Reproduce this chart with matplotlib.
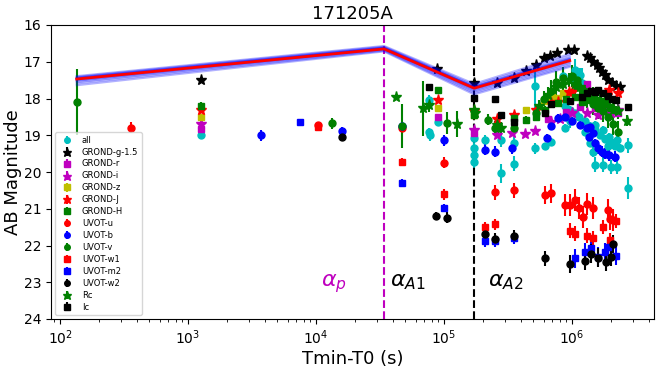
import matplotlib
matplotlib.use("Agg")
import matplotlib.pyplot as plt

# ---------------- data ----------------
all_t = [1260, 7.6e4, 7.6e4, 7.8e4, 8.9e4, 1.7e5, 1.7e5, 1.72e5, 1.7e5, 2.1e5, 2.8e5, 2.8e5,
         3.5e5, 3.5e5, 5.1e5, 5.1e5, 6.2e5, 6.9e5, 8.8e5, 9.6e5, 1.06e6, 1.2e6, 8.5e5, 1.0e6,
         1.15e6, 8.8e5, 9.6e5, 1.05e6, 1.14e6, 1.26e6, 1.38e6, 1.51e6, 1.65e6, 1.81e6, 1.98e6,
         2.18e6, 2.37e6, 1.26e6, 1.38e6, 1.45e6, 1.5e6, 1.75e6, 1.95e6, 2.1e6, 2.25e6, 2.75e6,
         1.5e6, 1.75e6, 2.0e6, 2.25e6, 2.75e6, 1.9e6]
all_mag = [19.0, 18.05, 18.9, 19.0, 18.65, 19.07, 19.35, 19.53, 19.72, 19.13, 19.13, 20.04,
           19.2, 19.77, 17.66, 19.35, 19.3, 19.18, 18.8, 18.6, 17.22, 17.58, 17.4, 17.45,
           17.36, 18.2, 18.3, 18.4, 18.5, 18.6, 18.75, 18.85, 19.0, 19.1, 19.2,
           19.3, 19.35, 18.9, 19.2, 19.45, 18.72, 18.86, 19.05, 19.2, 19.13, 19.27,
           19.8, 19.8, 19.86, 19.86, 20.44, 19.3]
all_err = [0.05, 0.15, 0.1, 0.15, 0.1, 0.2, 0.25, 0.2, 0.2, 0.15, 0.2, 0.25,
           0.15, 0.2, 0.6, 0.15, 0.1, 0.1, 0.1, 0.2, 0.3, 0.4, 0.15, 0.15,
           0.2, 0.1, 0.1, 0.1, 0.1, 0.1, 0.1, 0.1, 0.1, 0.1, 0.1,
           0.1, 0.1, 0.1, 0.1, 0.15, 0.1, 0.1, 0.1, 0.1, 0.1, 0.2,
           0.2, 0.2, 0.2, 0.2, 0.3, 0.15]

g_t = [1260, 8.8e4, 1.72e5, 2.6e5, 3.5e5, 4.4e5, 5.2e5, 6.0e5, 6.7e5, 7.7e5, 9.3e5, 1.03e6,
       1.30e6, 1.38e6, 1.47e6, 1.56e6, 1.63e6, 1.71e6, 1.81e6, 1.92e6, 2.04e6, 2.21e6, 2.37e6]
g_mag = [17.5, 17.2, 17.58, 17.58, 17.44, 17.25, 17.09, 16.9, 16.84, 16.76, 16.68, 16.68,
         16.84, 16.91, 17.0, 17.09, 17.18, 17.29, 17.36, 17.5, 17.59, 17.65, 17.68]
g_err = [0.03] * len(g_t)

r_t = [1260, 8.9e4, 1.72e5, 6.5e5, 9e5, 1.15e6, 1.3e6, 1.5e6, 1.8e6, 2.1e6, 2.3e6]
r_mag = [18.82, 18.5, 18.95, 18.55, 18.37, 18.23, 17.6, 18.27, 18.18, 18.35, 18.4]
r_err = [0.05] * len(r_t)

i_t = [1260, 1.72e5, 2.6e5, 3.4e5, 4.3e5, 5.1e5, 6.9e5, 8e5, 1.0e6, 1.3e6, 1.6e6, 2.0e6, 2.3e6]
i_mag = [18.7, 18.86, 18.99, 18.94, 18.97, 18.88, 18.63, 18.55, 18.4, 18.4, 18.45, 18.4, 18.3]
i_err = [0.05] * len(i_t)

z_t = [1260, 8.9e4, 1.72e5, 4.4e5, 6.0e5, 7.0e5, 7.8e5, 8.5e5]
z_mag = [18.5, 18.25, 18.45, 18.31, 18.07, 17.95, 17.98, 17.86]
z_err = [0.05] * len(z_t)

J_t = [1260, 8.9e4, 1.72e5, 2.6e5, 3.5e5, 5.2e5, 6.9e5, 7.8e5, 9.5e5, 1.0e6, 1.95e6, 2.3e6]
J_mag = [18.3, 18.05, 18.35, 18.55, 18.45, 18.32, 18.13, 18.1, 17.82, 17.82, 17.77, 17.86]
J_err = [0.08] * len(J_t)

H_t = [1260, 8.9e4, 1.72e5, 3.5e5, 4.4e5, 5.2e5, 6.1e5, 7.8e5, 9e5, 1.05e6, 1.2e6, 1.4e6,
       1.6e6, 1.8e6, 2.0e6, 2.2e6]
H_mag = [18.2, 17.78, 18.45, 18.53, 18.58, 18.5, 18.3, 18.13, 18.0, 17.95, 18.1, 18.05,
         18.2, 18.15, 18.25, 18.3]
H_err = [0.1] * len(H_t)

u_t = [359, 1.04e4, 4.7e4, 1.0e5, 2.5e5, 3.5e5, 6.2e5, 6.9e5, 8.8e5, 9.6e5, 1.05e6, 1.14e6,
       1.22e6, 1.3e6, 1.45e6, 1.9e6, 1.98e6, 2.1e6]
u_mag = [18.8, 18.73, 18.8, 19.75, 20.55, 20.5, 20.62, 20.58, 20.9, 20.9, 20.76, 20.98,
         21.23, 20.87, 20.98, 21.03, 21.28, 21.3]
u_err = [0.15, 0.1, 0.1, 0.15, 0.2, 0.2, 0.25, 0.25, 0.3, 0.3, 0.3, 0.3,
         0.3, 0.3, 0.3, 0.3, 0.3, 0.3]

b_t = [3720, 1.6e4, 4.7e4, 1.0e5, 2.1e5, 2.5e5, 3.4e5, 6.4e5, 6.9e5, 7.8e5, 8.8e5, 1.0e6,
       1.15e6, 1.3e6, 1.38e6, 1.35e6, 1.45e6, 1.5e6, 1.6e6, 1.7e6, 1.8e6, 1.95e6, 2.15e6]
b_mag = [19.0, 18.88, 18.75, 19.13, 19.4, 19.45, 19.35, 19.07, 18.75, 18.53, 18.5, 18.6,
         18.72, 18.8, 18.77, 19.04, 18.94, 19.2, 19.35, 19.45, 19.5, 19.54, 19.58]
b_err = [0.15, 0.1, 0.1, 0.15, 0.15, 0.15, 0.15, 0.1, 0.1, 0.1, 0.1, 0.1,
         0.1, 0.1, 0.1, 0.1, 0.1, 0.1, 0.15, 0.15, 0.15, 0.15, 0.15]

v_t = [135, 1.33e4, 4.7e4, 1.05e5, 2.2e5, 2.5e5, 3.5e5, 5.2e5, 6e5, 6.8e5, 7.5e5, 8.5e5,
       1.0e6, 1.1e6, 1.2e6, 1.3e6, 1.45e6, 1.6e6, 1.75e6, 1.9e6, 2.1e6, 2.3e6]
v_mag = [18.1, 18.67, 18.75, 18.66, 18.58, 18.8, 18.8, 18.4, 18.0, 17.8, 17.55, 17.45,
         17.4, 17.5, 17.75, 17.95, 18.15, 18.25, 18.35, 18.5, 18.7, 18.9]
v_err = [0.9, 0.15, 0.6, 0.3, 0.15, 0.2, 0.2, 0.2, 0.2, 0.3, 0.3, 0.3,
         0.3, 0.3, 0.3, 0.3, 0.3, 0.3, 0.3, 0.3, 0.3, 0.3]

w1_t = [1.04e4, 4.7e4, 1.0e5, 2.1e5, 2.5e5, 9.6e5, 1.05e6, 1.3e6, 1.45e6, 1.75e6, 1.98e6,
        2.1e6, 2.2e6]
w1_mag = [18.78, 19.72, 20.6, 21.5, 21.42, 21.6, 21.68, 21.73, 21.8, 21.5, 21.85, 21.3, 21.33]
w1_err = [0.08, 0.1, 0.15, 0.15, 0.15, 0.2, 0.2, 0.2, 0.2, 0.2, 0.2, 0.2, 0.2]

m2_t = [7500, 4.7e4, 1.0e5, 2.1e5, 2.5e5, 3.5e5, 1.05e6, 1.26e6, 1.4e6, 1.6e6, 1.8e6, 1.9e6, 2.2e6]
m2_mag = [18.65, 20.3, 20.98, 21.88, 21.88, 21.8, 22.35, 22.17, 22.07, 22.3, 22.17, 22.04, 22.28]
m2_err = [0.05, 0.1, 0.12, 0.15, 0.15, 0.15, 0.25, 0.25, 0.25, 0.25, 0.25, 0.25, 0.25]

w2_t = [1.6e4, 8.7e4, 1.05e5, 2.1e5, 2.5e5, 3.5e5, 6.2e5, 9.6e5, 1.26e6, 1.4e6, 1.6e6,
        1.85e6, 2.0e6, 2.1e6]
w2_mag = [19.05, 21.2, 21.25, 21.68, 21.82, 21.74, 22.35, 22.5, 22.43, 22.22, 22.33,
          22.45, 22.32, 21.96]
w2_err = [0.05, 0.1, 0.15, 0.15, 0.15, 0.15, 0.2, 0.25, 0.25, 0.25, 0.25, 0.25, 0.25, 0.25]

Rc_t = [4.2e4, 6.8e4, 7.6e4, 1.26e5, 1.72e5, 1.75e5, 2.6e5, 2.8e5, 5.5e5, 6.5e5, 7.5e5, 8.5e5,
        9.5e5, 1.05e6, 1.15e6, 1.25e6, 1.35e6, 1.45e6, 1.55e6, 1.65e6, 1.8e6, 1.95e6, 2.1e6,
        2.3e6, 2.7e6]
Rc_mag = [17.97, 18.27, 18.18, 18.7, 18.3, 18.4, 18.72, 18.8, 18.2, 17.9, 17.7, 17.6,
          17.5, 17.6, 17.7, 17.8, 17.85, 17.9, 18.0, 18.05, 18.1, 18.2, 18.3, 18.35, 18.6]
Rc_err = [0.05, 0.75, 0.2, 0.35, 0.15, 0.15, 0.15, 0.15, 0.15, 0.2, 0.2, 0.2,
          0.2, 0.2, 0.2, 0.2, 0.2, 0.2, 0.2, 0.2, 0.2, 0.2, 0.2, 0.2, 0.15]

Ic_t = [7.6e4, 1.72e5, 2.5e5, 2.8e5, 3.5e5, 6.2e5, 6.9e5, 9.6e5, 1.2e6, 1.3e6, 1.4e6, 1.5e6,
        1.6e6, 1.75e6, 1.9e6, 2.05e6, 2.2e6, 2.75e6]
Ic_mag = [17.7, 17.98, 18.0, 18.45, 18.63, 18.4, 18.15, 18.07, 17.95, 17.85, 17.8, 17.82,
          17.78, 17.85, 17.92, 18.0, 18.05, 18.22]
Ic_err = [0.05] * len(Ic_t)

# model broken power law (node times and magnitudes)
model_t = [135, 3.4e4, 1.72e5, 9.6e5]
model_mag = [17.47, 16.65, 17.72, 16.97]
band_mags = [
    [17.39, 16.57, 17.60, 16.79],
    [17.41, 16.59, 17.64, 16.84],
    [17.43, 16.61, 17.67, 16.89],
    [17.44, 16.62, 17.68, 16.91],
    [17.45, 16.63, 17.69, 16.93],
    [17.46, 16.63, 17.70, 16.94],
    [17.48, 16.64, 17.73, 16.97],
    [17.50, 16.65, 17.75, 17.00],
    [17.52, 16.66, 17.78, 17.03],
    [17.55, 16.68, 17.81, 17.07],
    [17.59, 16.70, 17.85, 17.11],
    [17.64, 16.72, 17.89, 17.14],
]
t_peak = 3.4e4
t_break = 1.72e5

series = [
    ("all", all_t, all_mag, all_err, "co", 5),
    ("GROND-g-1.5", g_t, g_mag, g_err, "k*", 8),
    ("GROND-r", r_t, r_mag, r_err, "ms", 5),
    ("GROND-i", i_t, i_mag, i_err, "m*", 8),
    ("GROND-z", z_t, z_mag, z_err, "ys", 5),
    ("GROND-J", J_t, J_mag, J_err, "r*", 8),
    ("GROND-H", H_t, H_mag, H_err, "gs", 5),
    ("UVOT-u", u_t, u_mag, u_err, "ro", 5),
    ("UVOT-b", b_t, b_mag, b_err, "bo", 5),
    ("UVOT-v", v_t, v_mag, v_err, "go", 5),
    ("UVOT-w1", w1_t, w1_mag, w1_err, "rs", 5),
    ("UVOT-m2", m2_t, m2_mag, m2_err, "bs", 5),
    ("UVOT-w2", w2_t, w2_mag, w2_err, "ko", 5),
    ("Rc", Rc_t, Rc_mag, Rc_err, "g*", 8),
    ("Ic", Ic_t, Ic_mag, Ic_err, "ks", 5),
]

fig = plt.figure(figsize=(6.64, 3.67), dpi=100)
ax = fig.add_axes([51 / 664, 1 - 319 / 367, (654 - 51) / 664, (319 - 25) / 367])

for bm in band_mags:
    ax.plot(model_t, bm, color="b", lw=1.5, alpha=0.3, zorder=3)
ax.plot(model_t, model_mag, color="r", lw=2, zorder=4)

for label, t, m, e, fmt, ms in series:
    ax.errorbar(t, m, yerr=e, fmt=fmt, ms=ms, elinewidth=1.5, capsize=0, label=label, zorder=2)

ax.axvline(t_peak, color="m", ls="--", lw=1.5)
ax.axvline(t_break, color="k", ls="--", lw=1.5)

ax.text(1.1e4, 23.1, r"$\alpha_p$", color="m", fontsize=16)
ax.text(3.8e4, 23.1, r"$\alpha_{A1}$", color="k", fontsize=16)
ax.text(2.2e5, 23.1, r"$\alpha_{A2}$", color="k", fontsize=16)

ax.set_xscale("log")
ax.set_xlim(85, 4.37e6)
ax.set_ylim(24, 16)
ax.set_yticks([16, 17, 18, 19, 20, 21, 22, 23, 24])
ax.tick_params(labelsize=10)
ax.set_xlabel("Tmin-T0 (s)", fontsize=13, labelpad=2)
ax.set_ylabel("AB Magnitude", fontsize=13, labelpad=1)
ax.set_title("171205A", fontsize=13, pad=4)
ax.legend(loc="lower left", fontsize=6, labelspacing=0.35, markerscale=0.8)

fig.savefig("out.png", dpi=100)
